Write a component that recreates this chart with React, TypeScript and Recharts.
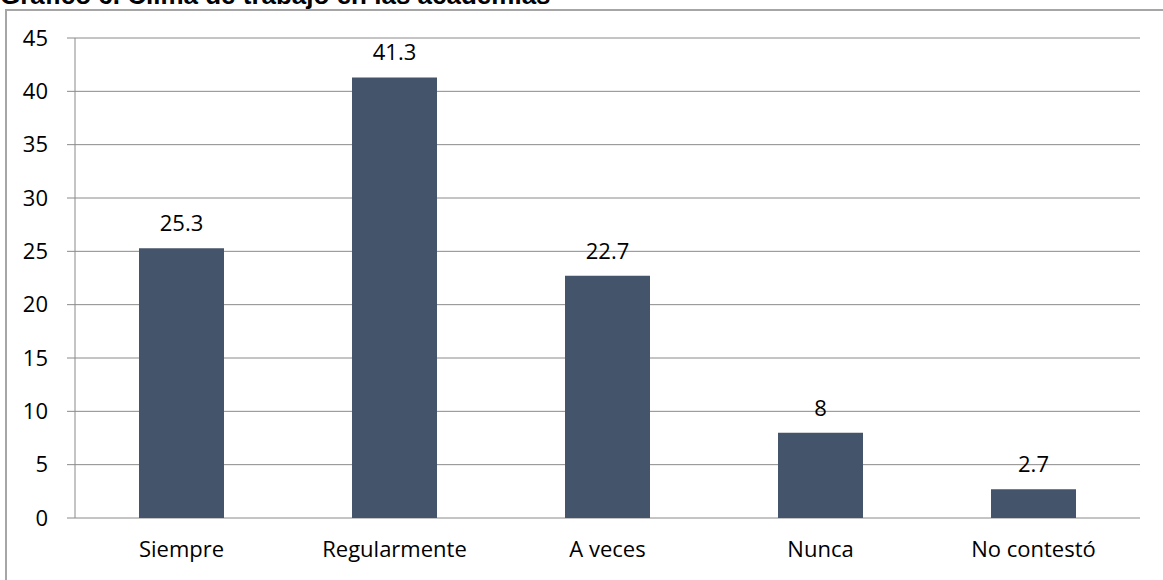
import React from "react";
import {
  BarChart,
  Bar,
  XAxis,
  YAxis,
  CartesianGrid,
  LabelList,
} from "recharts";

const categories = ["Siempre", "Regularmente", "A veces", "Nunca", "No contestó"];
const values = [25.3, 41.3, 22.7, 8, 2.7];
const yTicks = [0, 5, 10, 15, 20, 25, 30, 35, 40, 45];
const boundaryTicks = [0, 1, 2, 3, 4, 5];

const data = categories.map((name, i) => ({ name, value: values[i], pos: i + 0.5 }));

const FONT = "'Open Sans', 'Noto Sans', sans-serif";
const AXIS_COLOR = "#8a8a8a";

export default function App() {
  return (
    <div
      style={{
        position: "fixed",
        left: 0,
        top: 0,
        width: 1163,
        height: 580,
        background: "#ffffff",
        overflow: "hidden",
      }}
    >
      <div
        style={{
          position: "absolute",
          left: 0,
          top: -18,
          fontFamily: "'Liberation Sans', Arial, sans-serif",
          fontWeight: "bold",
          fontSize: 26,
          lineHeight: "26px",
          color: "#000",
          whiteSpace: "nowrap",
        }}
      >
        Gráfico 6. Clima de trabajo en las academias
      </div>
      <div
        style={{
          position: "absolute",
          left: 5,
          top: 9,
          width: 1300,
          height: 700,
          border: "2px solid #a6a6a6",
          boxSizing: "border-box",
        }}
      />
      <div style={{ position: "absolute", left: 0, top: 0 }}>
        <BarChart
          width={1163}
          height={580}
          data={data}
          margin={{ top: 38, right: 23, bottom: 22, left: 15 }}
          barCategoryGap="30%"
        >
          <CartesianGrid vertical={false} stroke={AXIS_COLOR} strokeWidth={1} />
          <XAxis
            xAxisId="bounds"
            type="number"
            dataKey="pos"
            domain={[0, 5]}
            ticks={boundaryTicks}
            allowDataOverflow
            height={0}
            tick={false}
            tickSize={7}
            tickLine={{ stroke: AXIS_COLOR }}
            axisLine={{ stroke: AXIS_COLOR }}
          />
          <XAxis
            xAxisId="cat"
            dataKey="name"
            height={40}
            axisLine={false}
            tickLine={false}
            tickSize={0}
            tickMargin={23}
            tick={{ fill: "#000", fontSize: 22, fontFamily: FONT }}
            interval={0}
          />
          <YAxis
            width={60}
            domain={[0, 45]}
            ticks={yTicks}
            interval={0}
            tickSize={8}
            tickMargin={19}
            tickLine={{ stroke: AXIS_COLOR }}
            axisLine={{ stroke: AXIS_COLOR }}
            tick={{ fill: "#000", fontSize: 22, fontFamily: FONT }}
          />
          <Bar
            xAxisId="cat"
            dataKey="value"
            fill="#44546a"
            barSize={85}
            isAnimationActive={false}
          >
            <LabelList
              dataKey="value"
              position="top"
              offset={17}
              fill="#000"
              fontSize={22}
              fontFamily={FONT}
            />
          </Bar>
        </BarChart>
      </div>
    </div>
  );
}
